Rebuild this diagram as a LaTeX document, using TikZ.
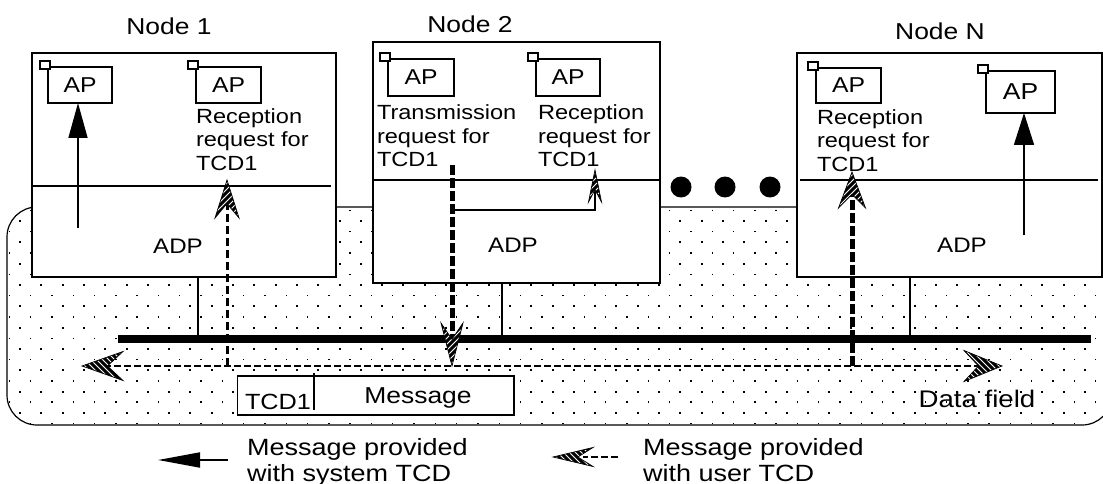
\documentclass[tikz,border=0pt]{standalone}
\usepackage{fontspec}
\setmainfont[FakeStretch=1.15]{Liberation Sans}
\usetikzlibrary{arrows.meta,calc}

\tikzset{
  x=1pt, y=-1pt,
  nodebox/.style={draw, line width=1.4pt, fill=white, inner sep=0pt, outer sep=0pt, anchor=north west},
  apbox/.style={draw, line width=1.2pt, fill=white, inner sep=0pt, outer sep=0pt, anchor=north west,
    font=\fontsize{21.5}{24}\selectfont},
  corner/.style={draw, line width=1.1pt, fill=white, inner sep=0pt, outer sep=0pt,
    minimum width=10pt, minimum height=8pt},
  lbl/.style={inner sep=0pt, outer sep=0pt, font=\fontsize{23}{26}\selectfont},
  body/.style={inner sep=0pt, outer sep=0pt, anchor=north west, align=left,
    font=\fontsize{20.5}{23.5}\selectfont},
  adp/.style={inner sep=0pt, outer sep=0pt, font=\fontsize{21}{24}\selectfont},
  divider/.style={line width=1.2pt},
  tap/.style={line width=1.1pt},
  bus/.style={line width=8pt},
  sysarrow/.style={line width=1.6pt, -{Triangle[length=35pt,width=19pt]}},
  userline/.style={line width=2.3pt, dash pattern=on 7pt off 3pt},
  usermid/.style={line width=3pt, dash pattern=on 8pt off 4pt},
  userthick/.style={line width=5pt, dash pattern=on 10pt off 3pt},
  ellipsisdot/.style={circle, fill, inner sep=0pt, minimum width=21pt},
  pics/hatchtip/.style 2 args={code={
    \begin{scope}
      \clip (0,0) -- (-#1,#2/2) -- (-0.62*#1,0) -- (-#1,-#2/2) -- cycle;
      \fill[white] (0,0) -- (-#1,#2/2) -- (-0.62*#1,0) -- (-#1,-#2/2) -- cycle;
      \foreach \k in {-12,...,3}
        \draw[line width=3pt] ({6*\k-35},-35) -- ({6*\k+35},35);
    \end{scope}
    \draw[line width=0.7pt, line join=miter] (0,0) -- (-#1,#2/2) -- (-0.62*#1,0) -- (-#1,-#2/2) -- cycle;
  }}
}

\begin{document}
\begin{tikzpicture}
\useasboundingbox (0,0) rectangle (1103,484);
\clip (0,0) rectangle (1103,484);
\fill[white] (0,0) rectangle (1103,484);

% dotted data-field area
\begin{scope}
  \clip[rounded corners=30pt] (7,207) rectangle (1112,425);
  \foreach \i in {0,...,52}
    \foreach \j in {-4,...,7}
      \fill ({20+21.3*\i-1},{285+21.3*\j-1}) rectangle ++(2,2);
  \foreach \i in {-1,...,52}
    \foreach \j in {-5,...,6}
      \fill ({30.6+21.3*\i-0.7},{295.6+21.3*\j-0.7}) rectangle ++(1.4,1.4);
\end{scope}
\draw[line width=1.2pt, rounded corners=30pt] (7,207) rectangle (1112,425);

% node boxes
\node[nodebox, minimum width=304pt, minimum height=224pt] (n1) at (32,53) {};
\node[nodebox, minimum width=287pt, minimum height=241pt] (n2) at (373,42) {};
\node[nodebox, minimum width=305pt, minimum height=224pt] (nN) at (797,53) {};

\draw[divider] (32,186) -- (331,186);
\draw[divider] (373,180) -- (660,180);
\draw[divider] (800,180) -- (1098,180);

\node[lbl, anchor=base] (l1) at (169,35) {Node 1};
\node[lbl, anchor=base] (l2) at (470,33) {Node 2};
\node[lbl, anchor=base] (lN) at (940,40) {Node N};

% application boxes
\node[apbox, minimum width=64pt, minimum height=36pt] (n1a1) at (48,67) {AP};
\node[apbox, minimum width=65pt, minimum height=36pt] (n1a2) at (196,67) {AP};
\node[apbox, minimum width=66pt, minimum height=37pt] (n2a1) at (388,59) {AP};
\node[apbox, minimum width=64pt, minimum height=37pt] (n2a2) at (536,59) {AP};
\node[apbox, minimum width=65pt, minimum height=35pt] (nNa1) at (816,68) {AP};
\node[apbox, minimum width=69pt, minimum height=42pt, font=\fontsize{23}{26}\selectfont] (nNa2) at (986,71) {AP};

\foreach \b in {n1a1,n1a2,n2a1,n2a2,nNa1,nNa2}
  \node[corner] (\b s) at ($(\b.north west)+(-3,-2)$) {};

\node[body] (t1) at (196,108.5) {Reception\\request for\\TCD1};
\node[body] (t2) at (377,105) {Transmission\\request for\\TCD1};
\node[body] (t3) at (538,105) {Reception\\request for\\TCD1};
\node[body] (t4) at (817,109.5) {Reception\\request for\\TCD1};

\node[adp] (d1) at (178,246) {ADP};
\node[adp] (d2) at (513,245) {ADP};
\node[adp] (dN) at (962,245) {ADP};

% ellipsis between nodes
\node[ellipsisdot] (e1) at (681,187) {};
\node[ellipsisdot] (e2) at (725,187) {};
\node[ellipsisdot] (e3) at (770,187) {};

% bus and taps
\coordinate (busL) at (118,339);
\coordinate (busR) at (1091,339);
\coordinate (b1) at (198,339);
\coordinate (b2) at (502,339);
\coordinate (bN) at (910,339);
\draw[tap] (n1.south -| b1) -- (b1);
\draw[tap] (n2.south -| b2) -- (b2);
\draw[tap] (nN.south -| bN) -- (bN);
\draw[bus] (busL) -- (busR);

% message frame
\node[draw, line width=1.2pt, fill=white, inner sep=0pt, outer sep=0pt, anchor=north west,
  minimum width=276.5pt, minimum height=39pt] (msg) at (237.5,376) {};
\coordinate (mdT) at (314,373);
\coordinate (mdB) at (314,410);
\draw[line width=1.2pt] (mdT) -- (mdB);
\node[lbl, anchor=base west, font=\fontsize{22}{24}\selectfont] (tcd) at (245,409) {TCD1};
\node[lbl, anchor=base] (mtxt) at (418,403) {Message};
\node[lbl, anchor=base, font=\fontsize{24}{26}\selectfont] (df) at (977,407.5) {Data field};

% system TCD arrows
\coordinate (s1) at (78,228);
\coordinate (sN) at (1024,235);
\draw[sysarrow] (s1) -- (s1 |- n1a1.south);
\draw[sysarrow, -{Triangle[length=32pt,width=20pt]}] (sN) -- (sN |- nNa2.south);

% user TCD message flow
\coordinate (hl) at (82,366);
\coordinate (hr) at (1002,366);
\draw[userline, shorten <=22pt, shorten >=22pt] (hl) -- (hr);
\pic[rotate=180] at (hl) {hatchtip={41}{29}};
\pic at (hr) {hatchtip={38}{31}};

\coordinate (n2src) at (452,165);
\coordinate (n2tip) at (452,366);
\draw[userthick, shorten >=26pt] (n2src) -- (n2tip);
\pic[rotate=-90] at (n2tip) {hatchtip={43}{22}};

\coordinate (n2fork) at (452,210);
\coordinate (n2rtip) at (595,170);
\draw[line width=1.3pt, shorten >=20pt] (n2fork) -- (n2fork -| n2rtip) -- (n2rtip);
\pic[rotate=90] at (n2rtip) {hatchtip={32}{13}};

\coordinate (u1foot) at (227,366);
\coordinate (u1tip) at (227,180);
\draw[usermid, shorten >=24pt] (u1foot) -- (u1tip);
\pic[rotate=90] at (u1tip) {hatchtip={38}{24}};

\coordinate (uNfoot) at (852,366);
\coordinate (uNtip) at (852,172);
\draw[userthick, shorten >=22pt] (uNfoot) -- (uNtip);
\pic[rotate=90] at (uNtip) {hatchtip={36}{27}};

% legend
\coordinate (lg1a) at (228,460);
\coordinate (lg1b) at (158,460);
\draw[line width=1.8pt, -{Triangle[length=42pt,width=15pt]}] (lg1a) -- (lg1b);
\node[body, font=\fontsize{23.5}{26}\selectfont] (lt1) at (247,438) {Message provided\\with system TCD};

\coordinate (lg2a) at (618,457);
\coordinate (lg2b) at (553,457);
\draw[userline, shorten >=30pt] (lg2a) -- (lg2b);
\pic[rotate=180] at (lg2b) {hatchtip={40}{19}};
\node[body, font=\fontsize{23.5}{26}\selectfont] (lt2) at (643,438) {Message provided\\with user TCD};
\end{tikzpicture}
\end{document}
